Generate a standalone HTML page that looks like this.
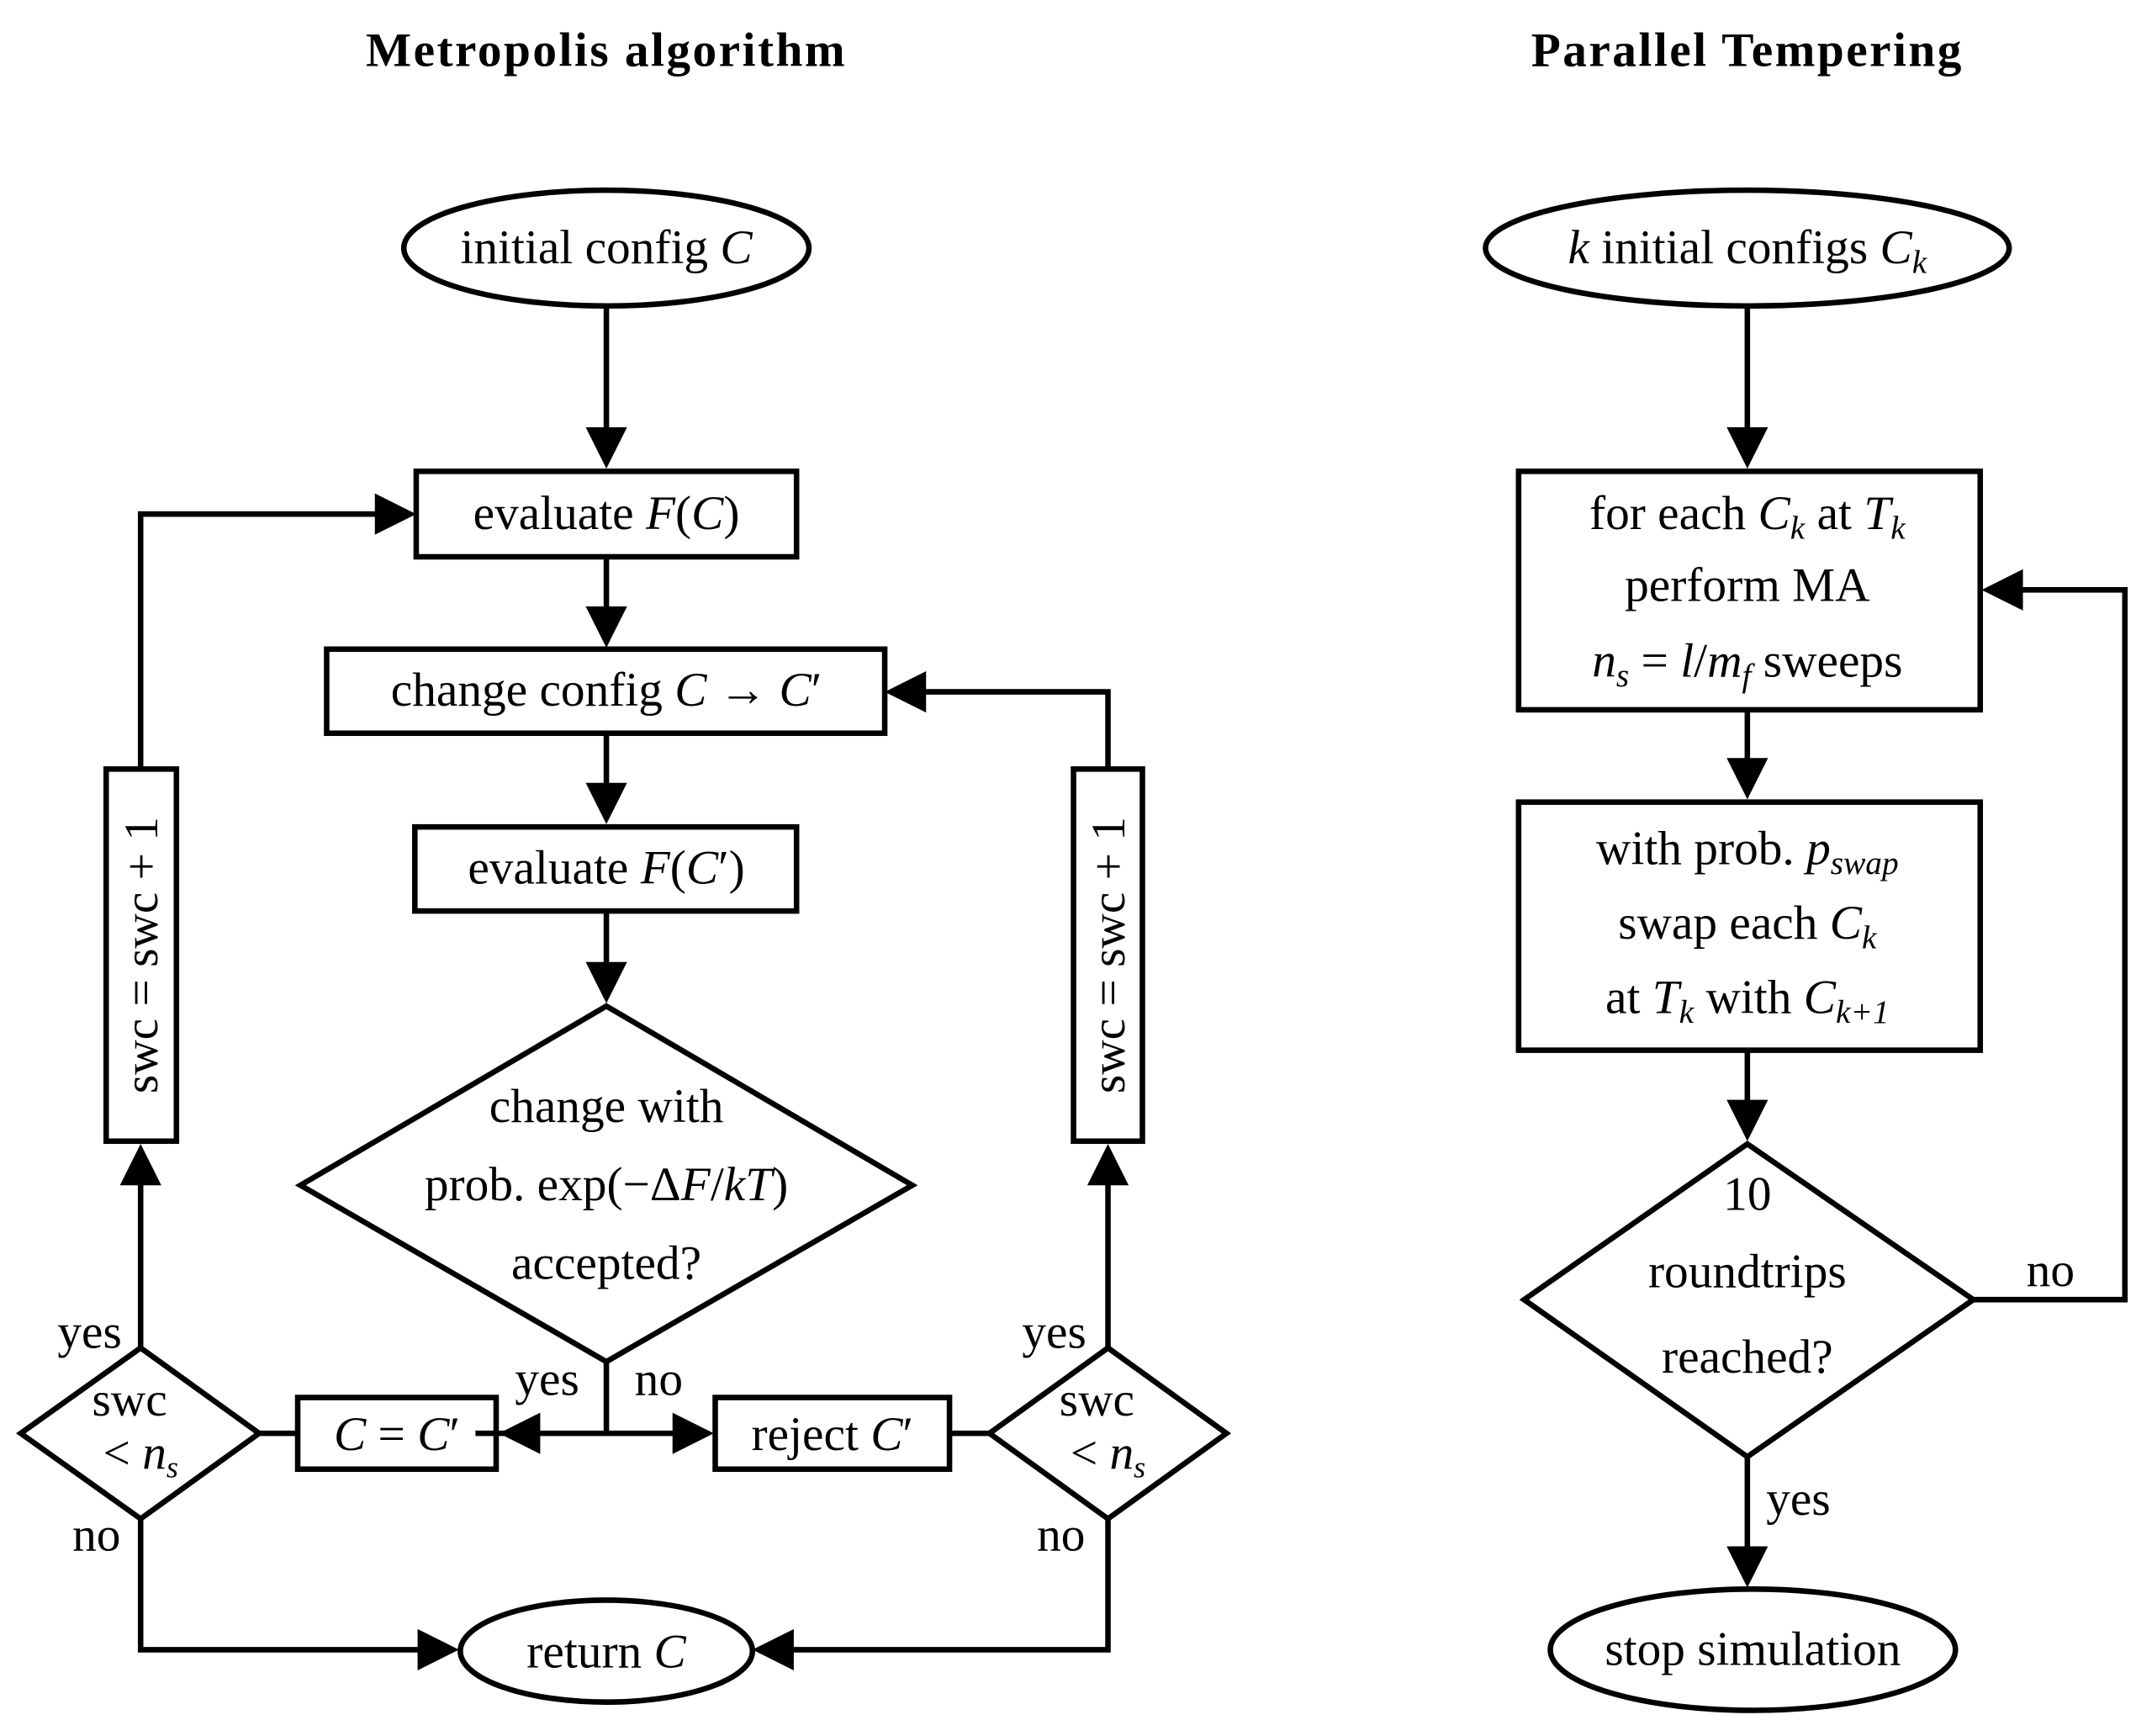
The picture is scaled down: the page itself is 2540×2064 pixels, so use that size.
<!DOCTYPE html>
<html><head><meta charset="utf-8"><style>html,body{margin:0;padding:0;background:#fff}svg{display:block}text{font-family:"Liberation Serif",serif;font-size:35px;fill:#000}</style></head><body>
<svg width="2540" height="2064" viewBox="0 0 1550 1259.6" xmlns="http://www.w3.org/2000/svg">
<g fill="none" stroke="#000" stroke-width="4">
<ellipse cx="440" cy="180" rx="147" ry="42"/>
<rect x="302" y="342" width="276" height="62"/>
<rect x="237" y="471" width="405" height="61"/>
<rect x="301" y="600" width="277" height="61"/>
<polygon points="440,730 662,860 440,988 218,860"/>
<rect x="216" y="1014" width="144" height="52"/>
<rect x="519" y="1014" width="170" height="52"/>
<polygon points="102,978 188,1040 102,1102 15,1040"/>
<polygon points="804,978 890,1040 804,1102 718,1040"/>
<rect x="77" y="558" width="51" height="270"/>
<rect x="779" y="558" width="50" height="270"/>
<ellipse cx="440" cy="1198" rx="106" ry="37"/>
<path d="M440 222V320M440 404V450M440 532V578M440 661V708M440 988V1040H345M440 1040H500M188 1040H216M689 1040H718M102 978V850M102 558V373H282M804 978V850M804 558V502H662M102 1102V1197H315M804 1102V1197H566"/>
<ellipse cx="1268" cy="180" rx="190" ry="42"/>
<rect x="1102" y="342" width="335" height="173"/>
<rect x="1102" y="582" width="335" height="180"/>
<polygon points="1268,830 1432,943 1268,1057 1106,943"/>
<ellipse cx="1272" cy="1197" rx="147" ry="44"/>
<path d="M1268 222V320M1268 515V560M1268 762V808M1432 943H1542V428H1458M1268 1057V1130"/>
</g>
<g fill="#000">
<polygon points="425,310 455,310 440,340"/>
<polygon points="425,440 455,440 440,470"/>
<polygon points="425,568 455,568 440,598"/>
<polygon points="425,698 455,698 440,728"/>
<polygon points="392,1025 392,1055 362,1040"/>
<polygon points="488,1025 488,1055 518,1040"/>
<polygon points="87,860 117,860 102,830"/>
<polygon points="272,358 272,388 302,373"/>
<polygon points="789,860 819,860 804,830"/>
<polygon points="672,487 672,517 642,502"/>
<polygon points="303,1182 303,1212 333,1197"/>
<polygon points="576,1182 576,1212 546,1197"/>
<polygon points="1253,310 1283,310 1268,340"/>
<polygon points="1253,550 1283,550 1268,580"/>
<polygon points="1253,798 1283,798 1268,828"/>
<polygon points="1468,413 1468,443 1438,428"/>
<polygon points="1253,1122 1283,1122 1268,1152"/>
</g>
<g text-anchor="middle">
<text x="440" y="48" font-weight="bold" font-size="38" letter-spacing="1.5">Metropolis algorithm</text>
<text x="1268" y="48" font-weight="bold" font-size="38" letter-spacing="1.5">Parallel Tempering</text>
<text x="440" y="191">initial config <tspan font-style="italic">C</tspan></text>
<text x="440" y="384">evaluate <tspan font-style="italic">F</tspan>(<tspan font-style="italic">C</tspan>)</text>
<text x="440" y="512">change config <tspan font-style="italic">C</tspan> → <tspan font-style="italic">C</tspan>′</text>
<text x="440" y="641">evaluate <tspan font-style="italic">F</tspan>(<tspan font-style="italic">C</tspan>′)</text>
<text x="440" y="814">change with</text>
<text x="440" y="871">prob. exp(−Δ<tspan font-style="italic">F</tspan>/<tspan font-style="italic">kT</tspan>)</text>
<text x="440" y="928">accepted?</text>
<text x="397" y="1012">yes</text>
<text x="478" y="1012">no</text>
<text x="288" y="1052"><tspan font-style="italic">C</tspan> = <tspan font-style="italic">C</tspan>′</text>
<text x="604" y="1052">reject <tspan font-style="italic">C</tspan>′</text>
<text x="94" y="1027" font-size="32">swc</text>
<text x="102" y="1066" font-size="32">&lt; <tspan font-style="italic">n</tspan><tspan font-style="italic" font-size="22" dy="6">s</tspan></text>
<text x="796" y="1027" font-size="32">swc</text>
<text x="804" y="1066" font-size="32">&lt; <tspan font-style="italic">n</tspan><tspan font-style="italic" font-size="22" dy="6">s</tspan></text>
<text x="65" y="978">yes</text>
<text x="765" y="978">yes</text>
<text x="70" y="1125">no</text>
<text x="770" y="1125">no</text>
<text transform="translate(114,693) rotate(-90)" font-size="33">swc = swc + 1</text>
<text transform="translate(816,693) rotate(-90)" font-size="33">swc = swc + 1</text>
<text x="440" y="1210">return <tspan font-style="italic">C</tspan></text>
<text x="1268" y="191"><tspan font-style="italic">k</tspan> initial configs <tspan font-style="italic">C</tspan><tspan font-style="italic" font-size="24" dy="7">k</tspan></text>
<text x="1268" y="384">for each <tspan font-style="italic">C</tspan><tspan font-style="italic" font-size="24" dy="7">k</tspan><tspan dy="-7"> at </tspan><tspan font-style="italic">T</tspan><tspan font-style="italic" font-size="24" dy="7">k</tspan></text>
<text x="1268" y="436">perform MA</text>
<text x="1268" y="491"><tspan font-style="italic">n</tspan><tspan font-style="italic" font-size="24" dy="7">s</tspan><tspan dy="-7"> = </tspan><tspan font-style="italic">l</tspan>/<tspan font-style="italic">m</tspan><tspan font-style="italic" font-size="24" dy="7">f</tspan><tspan dy="-7"> sweeps</tspan></text>
<text x="1268" y="627">with prob. <tspan font-style="italic">p</tspan><tspan font-style="italic" font-size="24" dy="7">swap</tspan></text>
<text x="1268" y="681">swap each <tspan font-style="italic">C</tspan><tspan font-style="italic" font-size="24" dy="7">k</tspan></text>
<text x="1268" y="735">at <tspan font-style="italic">T</tspan><tspan font-style="italic" font-size="24" dy="7">k</tspan><tspan dy="-7"> with </tspan><tspan font-style="italic">C</tspan><tspan font-style="italic" font-size="24" dy="7">k+1</tspan></text>
<text x="1268" y="878">10</text>
<text x="1268" y="934">roundtrips</text>
<text x="1268" y="996">reached?</text>
<text x="1488" y="933">no</text>
<text x="1305" y="1099">yes</text>
<text x="1272" y="1208">stop simulation</text>
</g>
</svg>
</body></html>
